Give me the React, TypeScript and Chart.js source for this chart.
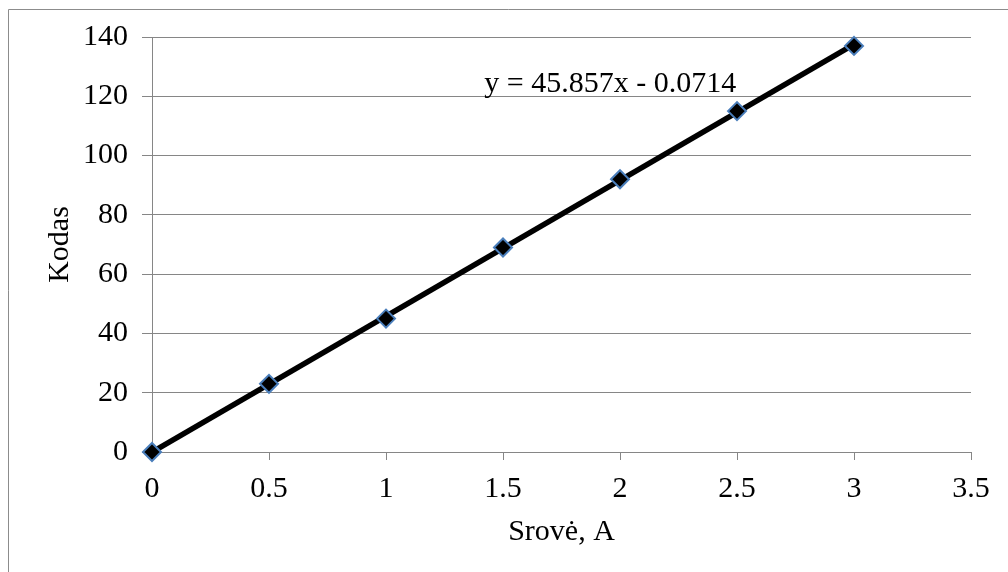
import React, { useEffect, useRef } from "react";
import { Chart, registerables } from "chart.js";

Chart.register(...registerables);

// Data
const CURRENT_A = [0, 0.5, 1, 1.5, 2, 2.5, 3];
const ANGLE = [0, 23, 45, 69, 92, 115, 137];
const X_TICKS = [0, 0.5, 1, 1.5, 2, 2.5, 3, 3.5];
const Y_TICKS = [0, 20, 40, 60, 80, 100, 120, 140];
const TREND_LABEL = "y = 45.857x - 0.0714";
const X_TITLE = "Srovė, A";
const Y_TITLE = "Kodas";

const FONT = "'Liberation Serif', 'Times New Roman', serif";
const FS = 30;
const GRID = "#868686";

function regression(xs: number[], ys: number[]) {
  const n = xs.length;
  const mx = xs.reduce((a, b) => a + b, 0) / n;
  const my = ys.reduce((a, b) => a + b, 0) / n;
  let sxy = 0;
  let sxx = 0;
  for (let i = 0; i < n; i++) {
    sxy += (xs[i] - mx) * (ys[i] - my);
    sxx += (xs[i] - mx) * (xs[i] - mx);
  }
  const slope = sxy / sxx;
  return { slope, intercept: my - slope * mx };
}

export default function App() {
  const ref = useRef<HTMLCanvasElement | null>(null);

  useEffect(() => {
    if (!ref.current) return;
    const { slope, intercept } = regression(CURRENT_A, ANGLE);
    const x0 = CURRENT_A[0];
    const x1 = CURRENT_A[CURRENT_A.length - 1];

    const frame = {
      id: "frame",
      beforeDraw(chart: any) {
        const c = chart.ctx;
        c.save();
        c.strokeStyle = "#8c8c8c";
        c.lineWidth = 1;
        c.beginPath();
        c.moveTo(8.5, chart.height);
        c.lineTo(8.5, 9.5);
        c.lineTo(chart.width, 9.5);
        c.stroke();
        c.restore();
      },
    };

    const trendLabel = {
      id: "trendLabel",
      afterDatasetsDraw(chart: any) {
        const c = chart.ctx;
        const xs = chart.scales.x;
        const ys = chart.scales.y;
        c.save();
        c.font = `${FS}px ${FONT}`;
        c.fillStyle = "#000";
        c.textAlign = "left";
        c.textBaseline = "alphabetic";
        c.fillText(TREND_LABEL, xs.getPixelForValue(1.42), ys.getPixelForValue(121.6));
        c.restore();
      },
    };

    const chart = new Chart(ref.current, {
      type: "scatter",
      data: {
        datasets: [
          {
            label: "data",
            data: CURRENT_A.map((x, i) => ({ x, y: ANGLE[i] })),
            showLine: false,
            pointStyle: "rectRot",
            pointRadius: 9,
            pointHoverRadius: 9,
            backgroundColor: "#000",
            borderColor: "#4a7ebb",
            borderWidth: 2,
            clip: false,
            order: 0,
          },
          {
            label: "trend",
            data: [
              { x: x0, y: intercept + slope * x0 },
              { x: x1, y: intercept + slope * x1 },
            ],
            showLine: true,
            borderColor: "#000",
            borderWidth: 5.5,
            pointRadius: 0,
            clip: false,
            order: 1,
          },
        ],
      },
      options: {
        animation: false,
        responsive: false,
        maintainAspectRatio: false,
        layout: { padding: { top: 37, right: 37, left: 0, bottom: 0 } },
        plugins: {
          legend: { display: false },
          tooltip: { enabled: false },
        },
        scales: {
          x: {
            type: "linear",
            min: 0,
            max: 3.5,
            afterBuildTicks: (s: any) => {
              s.ticks = X_TICKS.map((v) => ({ value: v }));
            },
            afterFit: (s: any) => {
              s.height = 120;
            },
            grid: {
              drawOnChartArea: false,
              drawTicks: true,
              tickLength: 8,
              color: GRID,
              lineWidth: 1,
            },
            border: { display: true, color: GRID, width: 1 },
            ticks: {
              color: "#000",
              font: { family: FONT, size: FS },
              padding: 11,
              maxRotation: 0,
              callback: (v: any) => String(v),
            },
            title: {
              display: true,
              text: X_TITLE,
              color: "#000",
              font: { family: FONT, size: FS },
              padding: { top: 0, bottom: 22 },
            },
          },
          y: {
            type: "linear",
            min: 0,
            max: 140,
            afterBuildTicks: (s: any) => {
              s.ticks = Y_TICKS.map((v) => ({ value: v }));
            },
            afterFit: (s: any) => {
              s.width = 152;
            },
            grid: {
              drawOnChartArea: true,
              drawTicks: true,
              tickLength: 10,
              color: GRID,
              lineWidth: 1,
            },
            border: { display: true, color: GRID, width: 1 },
            ticks: {
              color: "#000",
              font: { family: FONT, size: FS },
              padding: 14,
              callback: (v: any) => String(v),
            },
            title: {
              display: true,
              text: Y_TITLE,
              color: "#000",
              font: { family: FONT, size: FS },
              padding: { top: 42, bottom: 0 },
            },
          },
        },
      },
      plugins: [frame, trendLabel],
    });
    return () => chart.destroy();
  }, []);

  return (
    <div style={{ position: "absolute", left: 0, top: 0, width: 1008, height: 572, background: "#fff" }}>
      <canvas ref={ref} width={1008} height={572} style={{ display: "block", width: 1008, height: 572 }} />
    </div>
  );
}
